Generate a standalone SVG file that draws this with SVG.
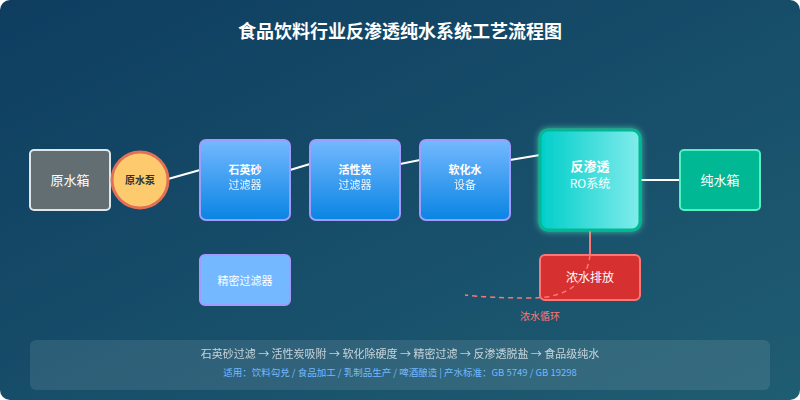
<svg xmlns="http://www.w3.org/2000/svg" width="800" height="400" viewBox="0 0 800 400">
<defs>
<linearGradient id="bg" x1="0" y1="0" x2="1" y2="1"><stop offset="0" stop-color="#0e3d60"/><stop offset="1" stop-color="#1f5d72"/></linearGradient>
<linearGradient id="blue" x1="0" y1="0" x2="0" y2="1"><stop offset="0" stop-color="#74b9ff"/><stop offset="1" stop-color="#0984e3"/></linearGradient>
<linearGradient id="ro" x1="0" y1="0" x2="1" y2="0"><stop offset="0" stop-color="#00cec9"/><stop offset="1" stop-color="#81ecec"/></linearGradient>
<filter id="glow" x="-30%" y="-30%" width="160%" height="160%"><feGaussianBlur in="SourceAlpha" stdDeviation="4"/><feFlood flood-color="#55efc4" flood-opacity="0.7"/><feComposite operator="in" in2="SourceAlpha"/><feGaussianBlur stdDeviation="3"/><feMerge><feMergeNode/><feMergeNode in="SourceGraphic"/></feMerge></filter>
</defs>
<style>
text{font-family:"Noto Sans CJK SC","Liberation Sans",sans-serif;text-anchor:middle}
.f{fill:url(#blue);stroke:#a29bfe;stroke-width:2}
.t{fill:#fff;font-size:11px;font-weight:bold}
.s{fill:#fff;font-size:11px;opacity:0.9}
.c{stroke:#fff;stroke-width:2;fill:none}
</style>
<rect width="800" height="400" rx="10" fill="url(#bg)"/>
<text x="400" y="38" fill="#fff" font-size="18" font-weight="bold">食品饮料行业反渗透纯水系统工艺流程图</text>
<g id="connectors">
<line class="c" x1="110" y1="180" x2="140" y2="180" stroke-width="3"/>
<line class="c" x1="168" y1="179" x2="200" y2="170"/>
<line class="c" x1="290" y1="170" x2="310" y2="164"/>
<line class="c" x1="400" y1="164" x2="420" y2="160"/>
<line class="c" x1="510" y1="160" x2="540" y2="155"/>
<line class="c" x1="640" y1="180" x2="680" y2="180"/>
<line x1="590" y1="230" x2="590" y2="255" stroke="#ff7675" stroke-width="2"/>
</g>
<g id="n1"><rect x="30" y="150" width="80" height="60" rx="4" fill="#636e72" stroke="#dfe6e9" stroke-width="2"/><text x="70" y="185" fill="#fff" font-size="13">原水箱</text></g>
<g id="n2"><circle cx="140" cy="180" r="28" fill="#fdcb6e" stroke="#e17055" stroke-width="3"/><text x="140" y="184" fill="#2d3436" font-size="10" font-weight="bold">原水泵</text></g>
<g id="n3"><rect class="f" x="200" y="140" width="90" height="80" rx="6"/><text class="t" x="245" y="174">石英砂</text><text class="s" x="245" y="189">过滤器</text></g>
<g id="n4"><rect class="f" x="310" y="140" width="90" height="80" rx="6"/><text class="t" x="355" y="174">活性炭</text><text class="s" x="355" y="189">过滤器</text></g>
<g id="n5"><rect class="f" x="420" y="140" width="90" height="80" rx="6"/><text class="t" x="465" y="174">软化水</text><text class="s" x="465" y="189">设备</text></g>
<g id="n6"><rect x="540" y="130" width="100" height="100" rx="8" fill="url(#ro)" stroke="#00b894" stroke-width="3" filter="url(#glow)"/><text x="590" y="171" fill="#fff" font-size="13" font-weight="bold">反渗透</text><text x="590" y="188" fill="#fff" font-size="12">RO系统</text></g>
<g id="n7"><rect x="680" y="150" width="80" height="60" rx="4" fill="#00b894" stroke="#55efc4" stroke-width="2"/><text x="720" y="185" fill="#fff" font-size="13">纯水箱</text></g>
<g id="n8"><rect x="200" y="255" width="90" height="50" rx="5" fill="#74b9ff" stroke="#a29bfe" stroke-width="2"/><text x="245" y="285" fill="#fff" font-size="11">精密过滤器</text></g>
<g id="n9"><rect x="540" y="255" width="100" height="45" rx="5" fill="#d63031" stroke="#ff7675" stroke-width="2"/><text x="590" y="282" fill="#fff" font-size="12">浓水排放</text></g>
<path d="M590 255 Q585 298 530 298 Q490 298 465 295" fill="none" stroke="#ff7675" stroke-width="1.5" stroke-dasharray="5,4"/>
<text x="540" y="320" fill="#ff7675" font-size="10">浓水循环</text>
<rect x="30" y="340" width="740" height="50" rx="6" fill="#fff" opacity="0.1"/>
<text x="400" y="358" fill="#dfe6e9" font-size="11" opacity="0.85">石英砂过滤 → 活性炭吸附 → 软化除硬度 → 精密过滤 → 反渗透脱盐 → 食品级纯水</text>
<text x="400" y="376" fill="#74b9ff" font-size="9.5">适用：饮料勾兑 / 食品加工 / 乳制品生产 / 啤酒酿造 | 产水标准：GB 5749 / GB 19298</text>
</svg>
